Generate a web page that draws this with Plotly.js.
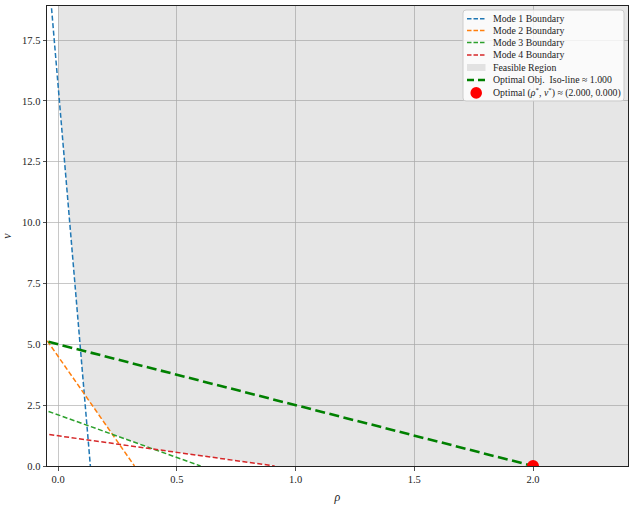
<!DOCTYPE html>
<html>
<head>
<meta charset="utf-8">
<script src="https://cdn.plot.ly/plotly-3.0.1.min.js"></script>
<style>html,body{margin:0;padding:0;background:#fff;}#chart{width:635px;height:505px;}</style>
</head>
<body>
<div id="chart"></div>
<script>
// Mode boundary lines: nu = intercept + slope * rho
const modeNames = ["Mode 1 Boundary", "Mode 2 Boundary", "Mode 3 Boundary", "Mode 4 Boundary"];
const modeIntercepts = [15.6, 4.5, 2.1, 1.24];
const modeSlopes = [-115, -14, -3.5, -1.36];
const modeColors = ["#1f77b4", "#ff7f0e", "#2ca02c", "#d62728"];

// Optimal objective iso-line: nu = isoIntercept + isoSlope * rho
const isoIntercept = 5.0;
const isoSlope = -2.5;
const isoLabel = "Optimal Obj.  Iso-line ≈ 1.000";
const feasibleLabel = "Feasible Region";

// Optimal point
const optRho = [2.0];
const optNu = [0.0];
const optLabel = "Optimal (<i>ρ</i><sup>*</sup>, <i>ν</i><sup>*</sup>) ≈ (2.000, 0.000)";

const xRange = [-0.047, 2.4];
const yRange = [0, 18.9];
const xTicks = [0.0, 0.5, 1.0, 1.5, 2.0];
const yTicks = [0.0, 2.5, 5.0, 7.5, 10.0, 12.5, 15.0, 17.5];

const traces = [];

// Feasible region: rho >= 0, nu >= 0 and above every mode boundary
function env(r) {
  let m = 0;
  for (let i = 0; i < modeIntercepts.length; i++) m = Math.max(m, modeIntercepts[i] + modeSlopes[i] * r);
  return m;
}
const xHi = 3, yHi = 25;
let cands = [0, xHi];
for (let i = 0; i < modeIntercepts.length; i++) {
  cands.push(-modeIntercepts[i] / modeSlopes[i]);
  for (let j = i + 1; j < modeIntercepts.length; j++) {
    cands.push((modeIntercepts[j] - modeIntercepts[i]) / (modeSlopes[i] - modeSlopes[j]));
  }
}
cands = cands.filter(r => r >= 0 && r <= xHi).sort((a, b) => a - b);
const fx = [0], fy = [yHi];
cands.forEach(r => { fx.push(r); fy.push(env(r)); });
fx.push(xHi); fy.push(yHi);
const feasibleFill = "rgba(128,128,128,0.2)";
traces.push({
  x: fx, y: fy, type: "scatter", mode: "lines", fill: "toself",
  fillcolor: feasibleFill, line: {width: 0, color: "rgba(0,0,0,0)"},
  name: feasibleLabel, hoverinfo: "skip"
});

const modeDash = "5px,2.5px";
const isoDash = "10px,4.5px";
const isoColor = "#008000";

// Mode lines
const xStart = -0.1;
for (let i = 0; i < modeIntercepts.length; i++) {
  const xEnd = -modeIntercepts[i] / modeSlopes[i];
  traces.push({
    x: [xStart, xEnd],
    y: [modeIntercepts[i] + modeSlopes[i] * xStart, modeIntercepts[i] + modeSlopes[i] * xEnd],
    type: "scatter", mode: "lines", name: modeNames[i],
    line: {color: modeColors[i], width: 1.5, dash: modeDash}
  });
}

// Iso-line
const isoEnd = -isoIntercept / isoSlope;
traces.push({
  x: [xStart, isoEnd],
  y: [isoIntercept + isoSlope * xStart, isoIntercept + isoSlope * isoEnd],
  type: "scatter", mode: "lines", name: isoLabel,
  line: {color: isoColor, width: 2.6, dash: isoDash}
});

// Optimal point
traces.push({
  x: optRho, y: optNu, type: "scatter", mode: "markers", name: optLabel,
  marker: {color: "#ff0000", size: 12}
});

// ---- Layout geometry (pixels) ----
const W = 635, H = 505;
const M = {l: 47, r: 7, t: 6, b: 39};
const pw = W - M.l - M.r, ph = H - M.t - M.b;
const px = x => (x - M.l) / pw;
const py = y => (H - M.b - y) / ph;

// Custom compact legend (matplotlib-like)
const shapes = [];
const annotations = [];
const box = {x0: 463, x1: 624, y0: 10, y1: 101, r: 3};
{
  const {x0, x1, y0, y1, r} = box;
  const p = (x, y) => px(x) + "," + py(y);
  const path = "M" + p(x0 + r, y0) + " L" + p(x1 - r, y0) + " Q" + p(x1, y0) + " " + p(x1, y0 + r) +
    " L" + p(x1, y1 - r) + " Q" + p(x1, y1) + " " + p(x1 - r, y1) +
    " L" + p(x0 + r, y1) + " Q" + p(x0, y1) + " " + p(x0, y1 - r) +
    " L" + p(x0, y0 + r) + " Q" + p(x0, y0) + " " + p(x0 + r, y0) + " Z";
  shapes.push({type: "path", xref: "paper", yref: "paper", path: path,
    fillcolor: "rgba(255,255,255,0.8)", line: {color: "#cccccc", width: 1}});
}
const rowY = [18.7, 30.6, 42.5, 54.9, 67.5, 80.0, 92.9];
const hx0 = 467, hx1 = 485.5, tx = 491.3;
const legFont = {family: "'Liberation Serif', 'DejaVu Serif', serif", size: 9.8, color: "#222"};
const labels = modeNames.concat([feasibleLabel, isoLabel, optLabel]);
for (let i = 0; i < 4; i++) {
  shapes.push({type: "line", xref: "paper", yref: "paper",
    x0: px(hx0), x1: px(hx1), y0: py(rowY[i]), y1: py(rowY[i]),
    line: {color: modeColors[i], width: 1.5, dash: "4.5px,2px"}});
}
shapes.push({type: "rect", xref: "paper", yref: "paper",
  x0: px(hx0), x1: px(hx1), y0: py(rowY[4] - 3.5), y1: py(rowY[4] + 3.5),
  fillcolor: feasibleFill, line: {width: 0}});
shapes.push({type: "line", xref: "paper", yref: "paper",
  x0: px(hx0), x1: px(hx1), y0: py(rowY[5]), y1: py(rowY[5]),
  line: {color: isoColor, width: 2.6, dash: "7px,4px"}});
shapes.push({type: "circle", xref: "paper", yref: "paper",
  x0: px(476.2 - 5.8), x1: px(476.2 + 5.8), y0: py(rowY[6] - 5.8), y1: py(rowY[6] + 5.8),
  fillcolor: "#ff0000", line: {width: 0}});
labels.forEach((t, i) => {
  annotations.push({text: t, xref: "paper", yref: "paper", x: px(tx), y: py(rowY[i]),
    xanchor: "left", yanchor: "middle", showarrow: false, font: legFont});
});

const font = {family: "'Liberation Serif', 'DejaVu Serif', serif", color: "#222", size: 10.5};
const axisCommon = {
  showline: true, linecolor: "#222", linewidth: 1, mirror: true,
  ticks: "outside", ticklen: 3.5, tickwidth: 0.8, tickcolor: "#222",
  showgrid: true, gridcolor: "rgba(176,176,176,0.7)", gridwidth: 1,
  zeroline: false, tickfont: font
};

const layout = {
  width: W, height: H,
  margin: M,
  paper_bgcolor: "#fff", plot_bgcolor: "#fff",
  font: font,
  showlegend: false,
  shapes: shapes,
  annotations: annotations,
  xaxis: Object.assign({}, axisCommon, {
    range: xRange, tickvals: xTicks, ticktext: xTicks.map(v => v.toFixed(1)),
    title: {text: "<i>ρ</i>", font: {family: font.family, size: 12, color: "#222"}, standoff: 8}
  }),
  yaxis: Object.assign({}, axisCommon, {
    range: yRange, tickvals: yTicks, ticktext: yTicks.map(v => v.toFixed(1)),
    title: {text: "<i>ν</i>", font: {family: font.family, size: 12, color: "#222"}, standoff: 10}
  })
};

Plotly.newPlot("chart", traces, layout, {displayModeBar: false, staticPlot: true});
</script>
</body>
</html>
